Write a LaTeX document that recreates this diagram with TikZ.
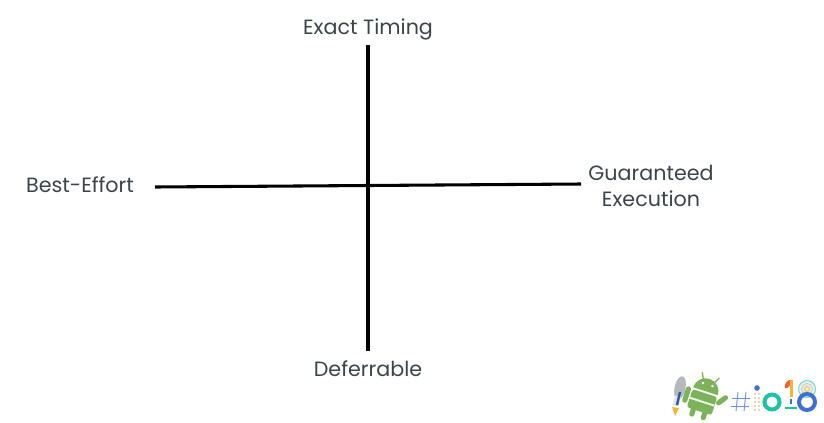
\documentclass[tikz,border=0pt]{standalone}
\usepackage{fontspec}
\setmainfont{Poppins}
\definecolor{labelgray}{HTML}{3C4449}
\definecolor{droidgreen}{HTML}{7CB35A}
\definecolor{iogreen}{HTML}{1CC4A4}
\definecolor{ioblue}{HTML}{3F6FD0}
\definecolor{iored}{HTML}{E8663A}
\definecolor{ioyellow}{HTML}{F2B632}
\definecolor{rocketgray}{HTML}{B4B8BF}
\tikzset{
    axislabel/.style={text=labelgray, font=\fontsize{15.5}{20}\selectfont, align=center, inner sep=0pt},
    axisline/.style={line width=2.3pt, black},
    droidlimb/.style={droidgreen, line width=3.8pt, line cap=round}
}
\begin{document}
\begin{tikzpicture}[x=0.75pt,y=-0.75pt]
\useasboundingbox (0,0) rectangle (824,422);

% Axis labels
\node (exact) [axislabel] at (368,29) {Exact Timing};
\node (deferrable) [axislabel] at (368,369) {Deferrable};
\node (besteffort) [axislabel] at (80,185) {Best-Effort};
\node (guaranteed) [axislabel] at (651,186) {Guaranteed\\Execution};

% Axes
\coordinate (top) at (368,45);
\coordinate (bottom) at (368,351);
\coordinate (left) at (155,187);
\coordinate (right) at (581,184);
\draw [axisline] (top) -- (bottom);
\draw [axisline] (left) -- (right);

% Rocket
\fill [rocketgray, rotate around={-12:(680,388)}] (680,388) ellipse (5.5 and 12);
\fill [rocketgray!40, rotate around={-14:(677,400)}] (674,396) rectangle (680,406);
\draw [line width=1.8pt, ioblue!80!black] (680,392) -- (677,405);
\fill [ioyellow] (672,407) -- (679,408) -- (675,416) -- cycle;

% Android
\begin{scope}[rotate around={-18:(704,396)}]
\fill [droidgreen] (691,391) arc (180:360:13 and 13) -- cycle;
\fill [droidgreen, rounded corners=2pt] (691,393) rectangle (717,412);
\fill [white!85!droidgreen] (691,401) rectangle (717,403);
\fill [white] (699,384) circle (1.4);
\fill [white] (709,384) circle (1.4);
\draw [droidgreen, line width=1pt] (698,380) -- (695,374);
\draw [droidgreen, line width=1pt] (710,380) -- (713,374);
\draw [droidlimb] (698,412) -- (698,417);
\draw [droidlimb] (710,412) -- (710,417);
\draw [droidlimb] (687,394) -- (687,406);
\draw [droidlimb] (720,398) -- (725,391);
\end{scope}

% Hash
\draw [ioblue!75, line width=0.7pt] (738,392) -- (736,411);
\draw [ioblue!75, line width=0.7pt] (746,392) -- (744,411);
\draw [ioblue!75, line width=0.7pt] (732,398) -- (750,398);
\draw [ioblue!75, line width=0.7pt] (731,406) -- (749,406);

% i
\fill [ioblue] (757,388) circle (2.8);
\foreach \row in {394,398,402,406,410} {
    \fill [iored!70] (755,\row) circle (0.9);
    \fill [ioyellow!80!iored] (759,\row) circle (0.9);
}

% o
\draw [iogreen, line width=3pt] (772,402) circle (7.5);

% 1
\fill [iored, rotate around={-35:(788,384)}] (788,384) ellipse (2.4 and 5);
\fill [ioyellow] (789.5,380) rectangle (793,397);
\draw [ioblue, line width=1.4pt] (791,399) -- (791,404);
\draw [iogreen, line width=1.8pt] (785,408) -- (797,408);

% 8
\fill [iogreen!15] (807,389) circle (8.5);
\draw [iogreen!60, line width=0.8pt] (807,389) circle (8.5);
\draw [iored!40, line width=0.8pt] (807,389) circle (5.5);
\draw [ioyellow!80, line width=0.8pt] (807,389) circle (2.5);
\draw [ioblue, line width=3pt] (807,402) circle (8);
\end{tikzpicture}
\end{document}
